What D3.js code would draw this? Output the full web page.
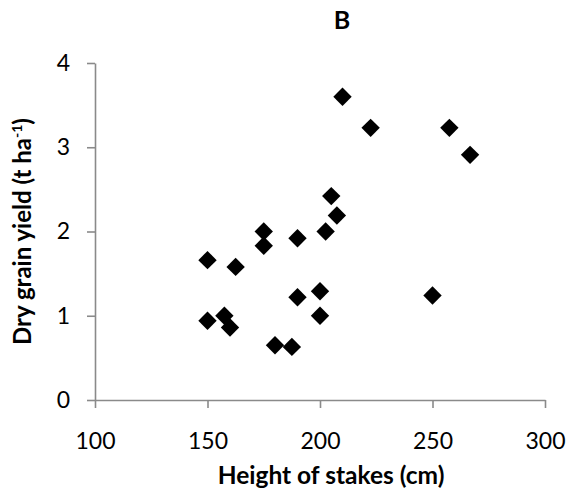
<!DOCTYPE html>
<html>
<head>
<meta charset="utf-8">
<script src="https://cdn.jsdelivr.net/npm/d3@7"></script>
<style>
  body { margin: 0; background: #fff; }
  text { font-family: Lato, "Open Sans", sans-serif; fill: #000; }
</style>
</head>
<body>
<div id="chart"></div>
<script>
// values
var heights = [150, 162.5, 175, 175, 190, 150, 157.5, 160, 180, 187.5, 190, 200, 200,
               210, 222.5, 257.5, 266.7, 205, 207.5, 202.5, 250];
var yields  = [1.66, 1.58, 1.83, 2.0, 1.92, 0.94, 1.0, 0.86, 0.65, 0.63, 1.22, 1.29, 1.0,
               3.6, 3.23, 3.23, 2.91, 2.42, 2.19, 2.0, 1.24];
var xTicks = [100, 150, 200, 250, 300];
var yTicks = [0, 1, 2, 3, 4];

var margin = {top: 63, right: 23, bottom: 89, left: 95},
    width = 568 - margin.left - margin.right,
    height = 489 - margin.top - margin.bottom;

var svg = d3.select("#chart").append("svg")
    .attr("width", 568)
    .attr("height", 489);

var x = d3.scaleLinear().domain([100, 300]).range([0, width]);
var y = d3.scaleLinear().domain([0, 4]).range([height, 0]);

var plot = svg.append("g")
    .attr("transform", "translate(" + margin.left + "," + margin.top + ")");

var xAxis = plot.append("g")
    .attr("transform", "translate(0," + height + ")")
    .call(d3.axisBottom(x).tickValues(xTicks).tickFormat(d3.format("d"))
          .tickSize(8).tickSizeOuter(0).tickPadding(25));

var yAxis = plot.append("g")
    .call(d3.axisLeft(y).tickValues(yTicks).tickFormat(d3.format("d"))
          .tickSize(8).tickSizeOuter(0).tickPadding(17));

[xAxis, yAxis].forEach(function(a) {
    a.selectAll("path, line").attr("stroke", "#8a8a8a").attr("stroke-width", 1.6);
    a.selectAll("text").style("font-size", "23px").style("font-family", "Lato, sans-serif").attr("fill", "#000");
});

// diamond marker, half-diagonal 9px
var diamond = {
    draw: function(context, size) {
        var r = Math.sqrt(size / 2);
        context.moveTo(0, -r);
        context.lineTo(r, 0);
        context.lineTo(0, r);
        context.lineTo(-r, 0);
        context.closePath();
    }
};

plot.append("g").selectAll("path").data(heights).enter()
    .append("path")
    .attr("d", d3.symbol().type(diamond).size(2 * 9.2 * 9.2))
    .attr("transform", function(d, i) {
        return "translate(" + x(d) + "," + y(yields[i]) + ")"; })
    .attr("fill", "#000");

svg.append("text")
    .attr("x", 342)
    .attr("y", 29)
    .style("text-anchor", "middle")
    .style("font-size", "25px")
    .style("font-weight", "bold")
    .text("B");

svg.append("text")
    .attr("x", 331)
    .attr("y", 484)
    .style("text-anchor", "middle")
    .style("font-size", "24.5px")
    .style("font-weight", "bold")
    .text("Height of stakes (cm)");

var yt = svg.append("text")
    .attr("transform", "translate(31," + (margin.top + height / 2) + ") rotate(-90)")
    .style("text-anchor", "middle")
    .style("font-size", "24px")
    .style("font-weight", "bold");
yt.append("tspan").text("Dry grain yield (t ha");
yt.append("tspan").attr("dy", -9).style("font-size", "14px").text("-1");
yt.append("tspan").attr("dy", 9).text(")");
</script>
</body>
</html>
